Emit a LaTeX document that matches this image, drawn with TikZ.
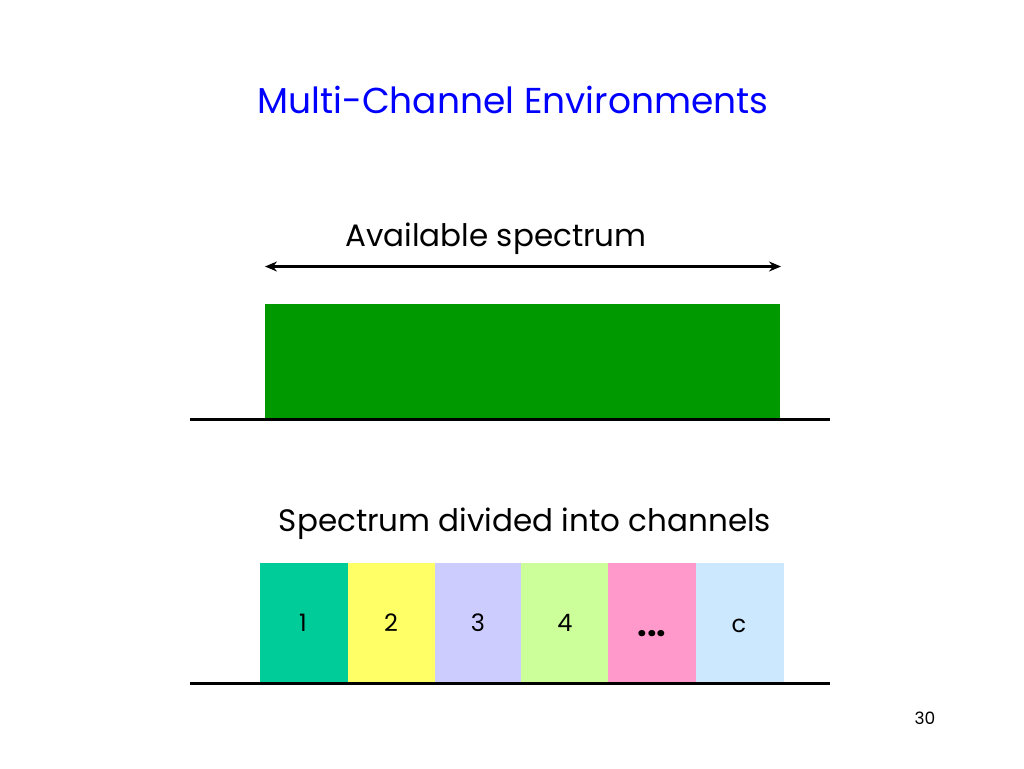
\documentclass[tikz,border=0pt]{standalone}
\usepackage{fontspec}
\setmainfont{Poppins}
\usetikzlibrary{arrows.meta}
\definecolor{bandgreen}{HTML}{009900}
\definecolor{chA}{HTML}{00CC99}
\definecolor{chB}{HTML}{FFFF66}
\definecolor{chC}{HTML}{CCCCFF}
\definecolor{chD}{HTML}{CCFF99}
\definecolor{chE}{HTML}{FF99CC}
\definecolor{chF}{HTML}{CCE8FF}
\definecolor{titleblue}{HTML}{0000FF}
\begin{document}
\begin{tikzpicture}[x=1pt,y=-1pt,
  baseline line/.style={line width=3pt,black},
  chan/.style={draw=none,minimum height=119pt,anchor=north west,inner sep=0pt},
  chanlabel/.style={font=\fontsize{24}{28}\selectfont},
  label text/.style={font=\fontsize{31}{36}\selectfont}]
\useasboundingbox (0,0) rectangle (1024,768);
\fill[white] (0,0) rectangle (1024,768);
\node[titleblue,font=\fontsize{36}{42}\selectfont] (title) at (513,100) {Multi-Channel Environments};
\node[label text] (avail) at (496,239) {Available spectrum};
\coordinate (al) at (265,266.5);
\coordinate (ar) at (781,266.5);
\draw[line width=3pt,{Stealth[length=12pt,width=10pt]}-{Stealth[length=12pt,width=10pt]}] (al) -- (ar);
\node[fill=bandgreen,minimum width=515pt,minimum height=114pt,anchor=north west,inner sep=0pt] (band) at (265,304) {};
\coordinate (b1l) at (190,419);
\coordinate (b1r) at (830,419);
\draw[baseline line] (b1l) -- (b1r);
\node[label text] (div) at (525,524) {Spectrum divided into channels};
\node[chan,fill=chA,minimum width=88.5pt] (c1) at (260,563) {};
\node[chan,fill=chB,minimum width=87.5pt] (c2) at (348,563) {};
\node[chan,fill=chC,minimum width=86.5pt] (c3) at (435,563) {};
\node[chan,fill=chD,minimum width=87.5pt] (c4) at (521,563) {};
\node[chan,fill=chE,minimum width=88.5pt] (c5) at (608,563) {};
\node[chan,fill=chF,minimum width=88pt] (c6) at (696,563) {};
\node[chanlabel] (l1) at (303,623) {1};
\node[chanlabel] (l2) at (391,623) {2};
\node[chanlabel] (l3) at (478,623) {3};
\node[chanlabel] (l4) at (565,623) {4};
\node[font=\fontsize{34}{38}\selectfont\bfseries] (l5) at (652,634) {...};
\node[chanlabel] (l6) at (739,626) {c};
\coordinate (b2l) at (190,683);
\coordinate (b2r) at (830,683);
\draw[baseline line] (b2l) -- (b2r);
\node[font=\fontsize{17}{20}\selectfont] (page) at (925,718) {30};
\end{tikzpicture}
\end{document}
